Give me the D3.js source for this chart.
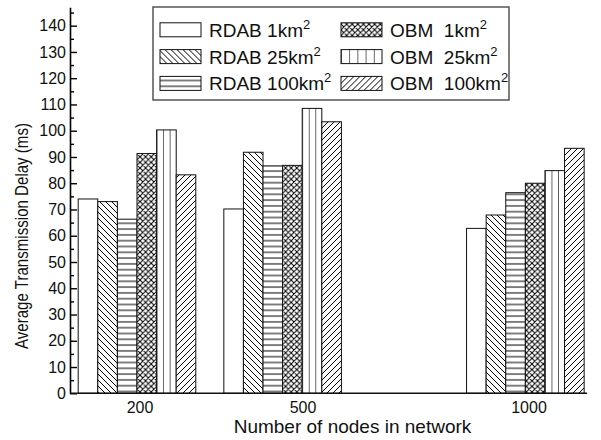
<!DOCTYPE html>
<html>
<head>
<meta charset="utf-8">
<script src="https://cdn.jsdelivr.net/npm/d3@7"></script>
<style>
  html, body { margin: 0; padding: 0; background: #fff; }
  svg { display: block; font-family: "Liberation Sans", Arial, sans-serif; }
</style>
</head>
<body>
<svg id="chart" width="601" height="440"></svg>
<script>
// Network sizes (number of nodes) on the horizontal axis
const nodeCounts = [200, 500, 1000];
const nodeLabels = ["200", "500", "1000"];

// Average transmission delay (ms) for each scheme / area
const rdab1 = [74.0, 70.2, 62.8];
const rdab25 = [73.0, 91.8, 67.9];
const rdab100 = [66.3, 86.6, 76.4];
const obm1 = [91.3, 86.8, 80.0];
const obm25 = [100.3, 108.5, 84.8];
const obm100 = [83.2, 103.4, 93.3];

const seriesNames = ["RDAB 1km", "RDAB 25km", "RDAB 100km", "OBM  1km", "OBM  25km", "OBM  100km"];
const seriesValues = [rdab1, rdab25, rdab100, obm1, obm25, obm100];
const seriesFills = ["white", "back", "horiz", "cross", "vert", "fwd"];

const yTicks = d3.range(0, 141, 10);
const yMinorTicks = d3.range(5, 146, 10);

const svg = d3.select("#chart");
const plotLeft = 70, plotRight = 587, plotTop = 7.3, plotBottom = 393.3;

const x = d3.scaleLinear().domain([62, 1127]).range([plotLeft, plotRight]);
const y = d3.scaleLinear().domain([0, 147]).range([plotBottom, plotTop]);
const barW = 19.6;
// tick labels below each group
const labelX = d3.scaleLinear().domain(nodeCounts).range([140, 303, 529]);

// ---- hatch patterns ----
const defs = svg.append("defs");
function linePattern(id, w, h, d) {
  const p = defs.append("pattern").attr("id", id)
    .attr("patternUnits", "userSpaceOnUse").attr("width", w).attr("height", h);
  p.append("rect").attr("width", w).attr("height", h).attr("fill", "white");
  p.append("path").attr("d", d).attr("stroke", "#000").attr("stroke-width", 1).attr("fill", "none");
}
linePattern("back", 6, 6, "M0,0L6,6M-1,5L1,7M5,-1L7,1");
linePattern("fwd", 6, 6, "M0,6L6,0M-1,1L1,-1M5,7L7,5");
linePattern("horiz", 10, 5.8, "M0,2.9H10");
linePattern("cross", 5.6, 5.6, "M0,0L5.6,5.6M0,5.6L5.6,0M-1,1L1,-1M4.6,6.6L6.6,4.6M-1,4.6L1,6.6M4.6,-1L6.6,1");
function vertPattern(id, n) {
  const p = defs.append("pattern").attr("id", id)
    .attr("patternUnits", "objectBoundingBox").attr("width", 1 / n).attr("height", 1);
  p.append("rect").attr("width", 200).attr("height", 600).attr("fill", "white");
  p.append("path").attr("d", "M0,0V600").attr("stroke", "#000").attr("stroke-width", 1.2);
}
vertPattern("vert", 3);
vertPattern("vertLegend", 5);

function fillOf(key, legend) {
  if (key === "white") return "white";
  if (key === "vert") return legend ? "url(#vertLegend)" : "url(#vert)";
  return `url(#${key})`;
}

// ---- bars ----
const barData = [];
seriesValues.forEach((vals, si) => {
  vals.forEach((v, gi) => barData.push({ si, gi, v }));
});
svg.append("g").selectAll("rect").data(barData).join("rect")
  .attr("x", d => x(nodeCounts[d.gi]) - 3 * barW + d.si * barW)
  .attr("y", d => y(d.v))
  .attr("width", barW)
  .attr("height", d => y(0) - y(d.v))
  .attr("fill", d => fillOf(seriesFills[d.si], false))
  .attr("stroke", "#111")
  .attr("stroke-width", 1);

// ---- axes ----
const yAxis = svg.append("g").attr("transform", `translate(${plotLeft},0)`)
  .call(d3.axisLeft(y).tickValues(yTicks).tickSizeInner(-7).tickSizeOuter(0).tickPadding(4));
yAxis.select(".domain").attr("stroke-width", 1.6);
yAxis.selectAll(".tick line").attr("stroke-width", 1.4);
yAxis.selectAll("text").attr("font-size", 16).attr("fill", "#111")
  .attr("font-family", "Liberation Sans, Arial, sans-serif");

const yMinor = svg.append("g").attr("transform", `translate(${plotLeft},0)`)
  .call(d3.axisLeft(y).tickValues(yMinorTicks).tickSize(-4).tickFormat(""));
yMinor.select(".domain").remove();
yMinor.selectAll(".tick line").attr("stroke-width", 1.4);

svg.append("line")
  .attr("x1", plotLeft).attr("x2", plotRight)
  .attr("y1", y(0)).attr("y2", y(0))
  .attr("stroke", "#111").attr("stroke-width", 1.6);

svg.append("g").selectAll("text").data(nodeCounts).join("text")
  .attr("x", d => labelX(d))
  .attr("y", 412.5)
  .attr("text-anchor", "middle")
  .attr("font-size", 16)
  .attr("fill", "#111")
  .text((d, i) => nodeLabels[i]);

// axis titles
svg.append("text")
  .attr("x", 352.5).attr("y", 433)
  .attr("text-anchor", "middle")
  .attr("font-size", 19)
  .attr("fill", "#111")
  .text("Number of nodes in network");

svg.append("text")
  .attr("transform", "translate(28,236) rotate(-90)")
  .attr("text-anchor", "middle")
  .attr("font-size", 19)
  .attr("fill", "#111")
  .attr("textLength", 226)
  .attr("lengthAdjust", "spacingAndGlyphs")
  .text("Average Transmission Delay (ms)");

// ---- legend ----
const legend = svg.append("g");
legend.append("rect")
  .attr("x", 153).attr("y", 7).attr("width", 356).attr("height", 93)
  .attr("fill", "white").attr("stroke", "#555").attr("stroke-width", 1.5);

const rowY = d3.scalePoint().domain([0, 1, 2]).range([29.8, 83.4]);
const colX = d3.scalePoint().domain([0, 1]).range([160, 341]);
const items = legend.selectAll("g.item").data(seriesNames).join("g").attr("class", "item")
  .attr("transform", (d, i) => `translate(${colX(Math.floor(i / 3))},${rowY(i % 3)})`);
items.append("rect")
  .attr("x", 0).attr("y", -7).attr("width", 41).attr("height", 14)
  .attr("fill", (d, i) => fillOf(seriesFills[i], true))
  .attr("stroke", "#111").attr("stroke-width", 1);
const lt = items.append("text")
  .attr("x", 49).attr("y", 7)
  .attr("font-size", 19)
  .attr("fill", "#111")
  .style("white-space", "pre");
lt.append("tspan").text(d => d);
lt.append("tspan").attr("font-size", 13).attr("dy", -8).text("2");
</script>
</body>
</html>
